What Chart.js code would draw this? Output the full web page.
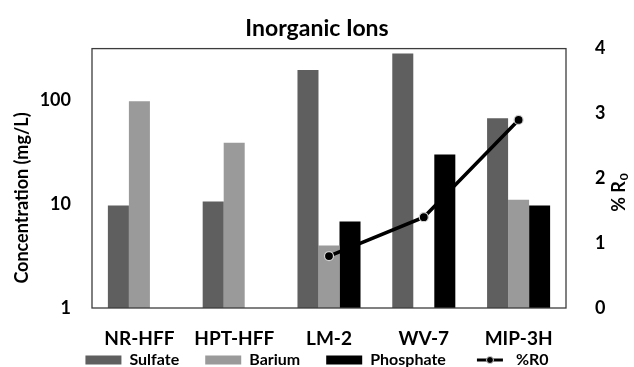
<!DOCTYPE html>
<html>
<head>
<meta charset="utf-8">
<script src="https://cdn.jsdelivr.net/npm/chart.js@4/dist/chart.umd.min.js"></script>
<style>
  body { margin: 0; background: #fff; }
</style>
</head>
<body>
<canvas id="chart" width="634" height="367"></canvas>
<script>
// Sites along the x axis
const sites = ['NR-HFF', 'HPT-HFF', 'LM-2', 'WV-7', 'MIP-3H'];

// Concentrations (mg/L)
const sulfate = [9.7, 10.6, 195, 281, 67];
const barium = [98, 39, 4.0, null, 11];
const phosphate = [null, null, 6.8, 30, 9.7];

// %R0 on the right axis
const pctR0 = [null, null, 0.8, 1.4, 2.9];

// Tick labels shown on the log axis
const logTicks = [1, 10, 100];

const sulfateColor = '#5f5f5f';
const bariumColor = '#9a9a9a';
const phosphateColor = '#000000';

Chart.defaults.font.family = 'Lato';
Chart.defaults.color = '#000';

// small marker for the %R0 legend entry (line with a dot)
function lineMarker() {
  const c = document.createElement('canvas');
  c.width = 36;
  c.height = 12;
  const g = c.getContext('2d');
  g.strokeStyle = '#000';
  g.lineWidth = 3;
  g.beginPath();
  g.moveTo(5, 6);
  g.lineTo(31, 6);
  g.stroke();
  g.beginPath();
  g.arc(18, 6, 3.5, 0, Math.PI * 2);
  g.fillStyle = '#000';
  g.fill();
  g.lineWidth = 1;
  g.strokeStyle = '#cfcfcf';
  g.stroke();
  return c;
}
const r0Marker = lineMarker();

// box around the plot area + the two axis titles (Excel-style placement)
const framePlugin = {
  id: 'frame',
  afterDatasetsDraw(chart) {
    const { ctx, chartArea: a } = chart;
    ctx.save();
    ctx.strokeStyle = '#3c3c3c';
    ctx.lineWidth = 1.3;
    ctx.strokeRect(a.left, a.top, a.right - a.left, a.bottom - a.top);
    ctx.restore();
  },
  afterDraw(chart) {
    const { ctx } = chart;
    ctx.save();
    ctx.fillStyle = '#000';
    ctx.textBaseline = 'middle';

    // left: concentration
    ctx.save();
    ctx.translate(22, 198);
    ctx.rotate(-Math.PI / 2);
    ctx.textAlign = 'center';
    ctx.font = 'bold 18px Lato';
    ctx.fillText('Concentration (mg/L)', 0, 0);
    ctx.restore();

    // right: % R with subscript 0
    ctx.save();
    ctx.translate(619, 193);
    ctx.rotate(-Math.PI / 2);
    ctx.textAlign = 'left';
    const main = '% R';
    ctx.font = 'bold 18px Lato';
    const w1 = ctx.measureText(main).width;
    ctx.font = 'bold 12px Lato';
    const w2 = ctx.measureText('0').width;
    const x0 = -(w1 + w2) / 2;
    ctx.font = 'bold 18px Lato';
    ctx.fillText(main, x0, 0);
    ctx.font = 'bold 12px Lato';
    ctx.fillText('0', x0 + w1 + 1, 5);
    ctx.restore();

    ctx.restore();
  }
};

const ctx = document.getElementById('chart').getContext('2d');

new Chart(ctx, {
  type: 'bar',
  data: {
    labels: sites,
    datasets: [
      {
        type: 'line',
        label: '%R0',
        data: pctR0,
        yAxisID: 'y1',
        borderColor: '#000',
        borderWidth: 3.5,
        pointRadius: 4.5,
        pointBackgroundColor: '#000',
        pointBorderColor: '#d0d0d0',
        pointBorderWidth: 1.2,
        fill: false,
        tension: 0,
        order: 0
      },
      {
        label: 'Sulfate',
        data: sulfate,
        backgroundColor: sulfateColor,
        borderWidth: 0,
        yAxisID: 'y',
        order: 1
      },
      {
        label: 'Barium',
        data: barium,
        backgroundColor: bariumColor,
        borderWidth: 0,
        yAxisID: 'y',
        order: 1
      },
      {
        label: 'Phosphate',
        data: phosphate,
        backgroundColor: phosphateColor,
        borderWidth: 0,
        yAxisID: 'y',
        order: 1
      }
    ]
  },
  options: {
    responsive: false,
    devicePixelRatio: 1,
    animation: false,
    datasets: {
      bar: { categoryPercentage: 0.665, barPercentage: 1.0 }
    },
    layout: { padding: 0 },
    plugins: {
      title: {
        display: true,
        text: 'Inorganic Ions',
        color: '#000',
        font: { size: 23, weight: 'bold' },
        padding: { top: 15, bottom: 6 }
      },
      legend: {
        position: 'bottom',
        maxHeight: 41,
        labels: {
          usePointStyle: true,
          pointStyleWidth: 36,
          boxHeight: 9,
          padding: 26,
          color: '#000',
          font: { size: 16, weight: 'bold' },
          sort: (a, b) => {
            const rank = { 'Sulfate': 0, 'Barium': 1, 'Phosphate': 2, '%R0': 3 };
            return rank[a.text] - rank[b.text];
          },
          generateLabels(chart) {
            const items = Chart.defaults.plugins.legend.labels.generateLabels(chart);
            items.forEach(it => {
              if (it.text === '%R0') {
                it.pointStyle = r0Marker;
              } else {
                it.pointStyle = 'rect';
                it.lineWidth = 0;
              }
            });
            return items;
          }
        }
      },
      tooltip: { enabled: false }
    },
    scales: {
      x: {
        grid: { display: false, drawTicks: false },
        border: { display: false },
        ticks: {
          // mirror turns off label clipping; negative padding pushes labels back below the axis
          mirror: true,
          color: '#000',
          font: { size: 19, weight: 'bold' },
          padding: -42
        },
        afterFit(scale) { scale.height = 18; }
      },
      y: {
        type: 'logarithmic',
        position: 'left',
        min: 1,
        max: 314,
        grid: { display: false, drawTicks: false },
        border: { display: false },
        ticks: {
          autoSkip: false,
          color: '#000',
          font: { size: 18, weight: 'bold' },
          padding: 21,
          callback: v => logTicks.includes(v) ? String(v) : ''
        },
        afterFit(scale) { scale.width = 92; }
      },
      y1: {
        position: 'right',
        min: 0,
        max: 4,
        grid: { display: false, drawTicks: false },
        border: { display: false },
        ticks: {
          stepSize: 1,
          color: '#000',
          font: { size: 18, weight: 'bold' },
          padding: 29
        },
        afterFit(scale) { scale.width = 68; }
      }
    }
  },
  plugins: [framePlugin]
});
</script>
</body>
</html>
